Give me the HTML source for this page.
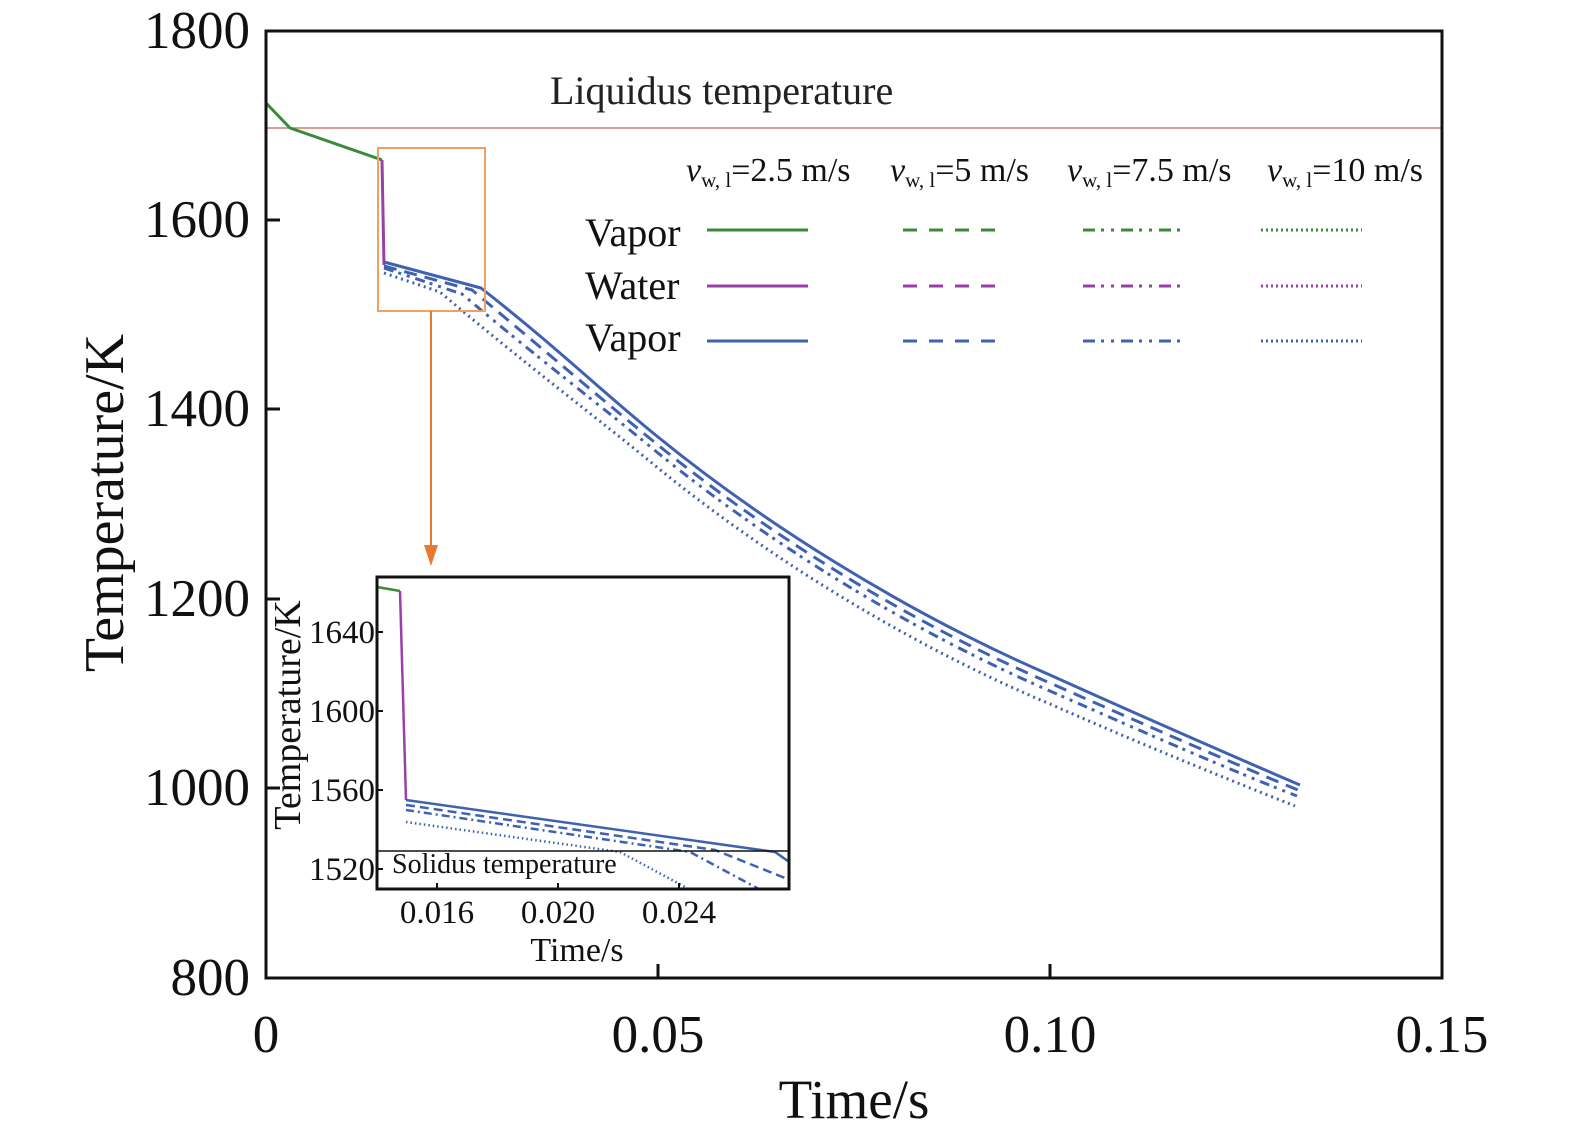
<!DOCTYPE html>
<html><head><meta charset="utf-8"><style>
html,body{margin:0;padding:0;background:#fff;}
svg{display:block;font-family:"Liberation Serif",serif;}
</style></head><body>
<svg width="1575" height="1139" viewBox="0 0 1575 1139" xmlns="http://www.w3.org/2000/svg">
<line x1="266" y1="128" x2="1442" y2="128" stroke="#c88070" stroke-width="1.5"/>
<text x="550" y="104" font-size="40" fill="#222">Liquidus temperature</text>
<g fill="none" stroke-width="3" stroke-linejoin="round">
<polyline points="266,103 290,128 382,160" stroke="#3a8a3a"/>
<polyline points="382,160 384,265" stroke="#9a3fa8"/>
<path d="M384,262 L481,288 C560,350 600,390 658,437 C760,520 900,610 1050,675 C1150,720 1230,755 1300,785" stroke="#3f62b0"/>
<path d="M384,266 L472,290 C550,355 600,398 658,445 C760,528 900,618 1050,683 C1150,727 1230,762 1298,790" stroke="#3f62b0" stroke-dasharray="13 8"/>
<path d="M384,268 L462,294 C540,360 600,405 658,453 C760,536 900,626 1050,691 C1150,735 1230,770 1297,796" stroke="#3f62b0" stroke-dasharray="10 5 3 6 3 6"/>
<path d="M384,273 L440,292 C520,360 600,420 658,468 C760,551 900,641 1050,704 C1150,748 1230,780 1295,806" stroke="#3f62b0" stroke-dasharray="2 4"/>
</g>
<rect x="378" y="148" width="107" height="163" fill="none" stroke="#f0a060" stroke-width="2"/>
<line x1="431" y1="311" x2="431" y2="548" stroke="#e87830" stroke-width="2"/>
<polygon points="424,545 438,545 431,566" fill="#e87830"/>
<rect x="266" y="31" width="1176" height="947" fill="none" stroke="#111" stroke-width="3"/>
<g stroke="#111" stroke-width="3">
<line x1="266" y1="220" x2="280" y2="220"/><line x1="266" y1="409" x2="280" y2="409"/>
<line x1="266" y1="599" x2="280" y2="599"/><line x1="266" y1="788" x2="280" y2="788"/>
<line x1="658" y1="978" x2="658" y2="964"/><line x1="1050" y1="978" x2="1050" y2="964"/>
</g>
<g font-size="53" fill="#111" text-anchor="end">
<text x="250" y="48">1800</text><text x="250" y="237">1600</text><text x="250" y="426">1400</text>
<text x="250" y="616">1200</text><text x="250" y="805">1000</text><text x="250" y="995">800</text>
</g>
<g font-size="53" fill="#111" text-anchor="middle">
<text x="266" y="1052">0</text><text x="658" y="1052">0.05</text><text x="1050" y="1052">0.10</text><text x="1442" y="1052">0.15</text>
<text x="854" y="1118" font-size="55">Time/s</text>
<text transform="translate(123,503) rotate(-90)" font-size="56">Temperature/K</text>
</g>
<g font-size="40" fill="#111">
<text x="585" y="246">Vapor</text><text x="585" y="299">Water</text><text x="585" y="351">Vapor</text>
</g>
<g font-size="34" fill="#111">
<text x="686" y="181"><tspan font-style="italic">v</tspan><tspan font-size="21" dy="6">w, l</tspan><tspan dy="-6">=2.5 m/s</tspan></text>
<text x="890" y="181"><tspan font-style="italic">v</tspan><tspan font-size="21" dy="6">w, l</tspan><tspan dy="-6">=5 m/s</tspan></text>
<text x="1067" y="181"><tspan font-style="italic">v</tspan><tspan font-size="21" dy="6">w, l</tspan><tspan dy="-6">=7.5 m/s</tspan></text>
<text x="1267" y="181"><tspan font-style="italic">v</tspan><tspan font-size="21" dy="6">w, l</tspan><tspan dy="-6">=10 m/s</tspan></text>
</g>
<g stroke-width="3" fill="none">
<g stroke="#3a8a3a">
<line x1="707" y1="230" x2="808" y2="230"/>
<line x1="903" y1="230" x2="997" y2="230" stroke-dasharray="14 12"/>
<line x1="1083" y1="230" x2="1185" y2="230" stroke-dasharray="12 6 3 7 3 7"/>
<line x1="1261" y1="230" x2="1362" y2="230" stroke-dasharray="2 3"/>
</g>
<g stroke="#9a3fa8">
<line x1="707" y1="286" x2="808" y2="286"/>
<line x1="903" y1="286" x2="997" y2="286" stroke-dasharray="14 12"/>
<line x1="1083" y1="286" x2="1185" y2="286" stroke-dasharray="12 6 3 7 3 7"/>
<line x1="1261" y1="286" x2="1362" y2="286" stroke-dasharray="2 3"/>
</g>
<g stroke="#3f62b0">
<line x1="707" y1="341" x2="808" y2="341"/>
<line x1="903" y1="341" x2="997" y2="341" stroke-dasharray="14 12"/>
<line x1="1083" y1="341" x2="1185" y2="341" stroke-dasharray="12 6 3 7 3 7"/>
<line x1="1261" y1="341" x2="1362" y2="341" stroke-dasharray="2 3"/>
</g>
</g>
<rect x="377" y="577" width="412" height="312" fill="#fff"/>
<defs><clipPath id="ic"><rect x="377" y="577" width="412" height="312"/></clipPath></defs>
<g clip-path="url(#ic)" fill="none" stroke-width="2.5">
<polyline points="377,587 400,591" stroke="#3a8a3a"/>
<polyline points="400,591 406,800" stroke="#9a3fa8"/>
<polyline points="406,800 775,852 795,866" stroke="#3f62b0"/>
<polyline points="406,805 715,850 790,880" stroke="#3f62b0" stroke-dasharray="9 5"/>
<polyline points="406,810 690,852 770,895" stroke="#3f62b0" stroke-dasharray="8 4 2 4"/>
<polyline points="406,822 620,852 700,895" stroke="#3f62b0" stroke-dasharray="1.5 3"/>
<line x1="377" y1="851" x2="789" y2="851" stroke="#111" stroke-width="1.5"/>
</g>
<rect x="377" y="577" width="412" height="312" fill="none" stroke="#111" stroke-width="3"/>
<g stroke="#111" stroke-width="2">
<line x1="377" y1="632" x2="383" y2="632"/><line x1="377" y1="711" x2="383" y2="711"/>
<line x1="377" y1="790" x2="383" y2="790"/><line x1="377" y1="869" x2="383" y2="869"/>
<line x1="437" y1="889" x2="437" y2="883"/><line x1="558" y1="889" x2="558" y2="883"/><line x1="679" y1="889" x2="679" y2="883"/>
</g>
<text x="392" y="873" font-size="28" fill="#111">Solidus temperature</text>
<g font-size="33" fill="#111" text-anchor="end">
<text x="375" y="643">1640</text><text x="375" y="722">1600</text><text x="375" y="801">1560</text><text x="375" y="880">1520</text>
</g>
<g font-size="33" fill="#111" text-anchor="middle">
<text x="437" y="923">0.016</text><text x="558" y="923">0.020</text><text x="679" y="923">0.024</text>
<text x="577" y="961" font-size="34">Time/s</text>
<text transform="translate(300,715) rotate(-90)" font-size="38">Temperature/K</text>
</g>
</svg>
</body></html>
